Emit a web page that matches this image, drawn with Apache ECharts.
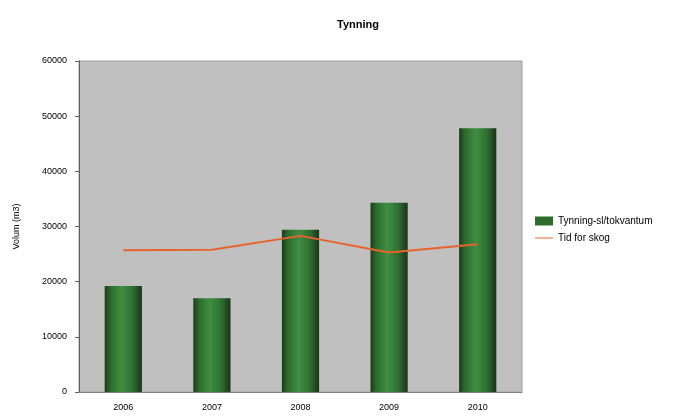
<!DOCTYPE html>
<html>
<head>
<meta charset="utf-8">
<script src="https://cdn.jsdelivr.net/npm/echarts@6/dist/echarts.min.js"></script>
<style>html,body{margin:0;padding:0;background:#fff}#c{width:687px;height:418px}</style>
</head>
<body>
<div id="c"></div>
<script>
const categories = ['2006', '2007', '2008', '2009', '2010'];
const barValues = [19200, 17000, 29400, 34300, 47800];
const lineValues = [25700, 25800, 28300, 25300, 26800];
const barName = 'Tynning-sl/tokvantum';
const lineName = 'Tid for skog';

const chart = echarts.init(document.getElementById('c'));
chart.setOption({
  animation: false,
  backgroundColor: '#ffffff',
  textStyle: { fontFamily: 'Liberation Sans, Arial, sans-serif' },
  title: {
    text: 'Tynning', left: 332, top: 14,
    textStyle: { fontSize: 11, fontWeight: 'bold', color: '#000' }
  },
  grid: {
    left: 79, right: 165, top: 61, bottom: 26,
    show: true, backgroundColor: '#c0c0c0', borderColor: '#a0a0a0', borderWidth: 1
  },
  legend: {
    orient: 'vertical', left: 530, top: 211, itemGap: 7,
    itemWidth: 18, itemHeight: 9,
    textStyle: { fontSize: 10, color: '#000' },
    data: [
      { name: barName, icon: 'rect', itemStyle: { color: '#2e6b2e' } },
      { name: lineName, icon: 'path://M0,4 L18,4 L18,5 L0,5 Z', itemStyle: { color: '#e8622e' } }
    ]
  },
  xAxis: {
    type: 'category', data: categories,
    axisLine: { show: true, lineStyle: { color: '#808080' } },
    axisTick: { show: false },
    axisLabel: { fontSize: 9, color: '#000', margin: 11 }
  },
  yAxis: {
    type: 'value', min: 0, max: 60000, interval: 10000,
    name: 'Volum (m3)', nameLocation: 'middle', nameGap: 58, nameRotate: 90,
    nameTextStyle: { fontSize: 9, color: '#000' },
    axisLine: { show: true, lineStyle: { color: '#606060' } },
    axisTick: { show: true, length: 4, lineStyle: { color: '#606060' } },
    axisLabel: { fontSize: 9, color: '#000', margin: 12, formatter: v => String(v) },
    splitLine: { show: false }
  },
  series: [
    {
      name: barName, type: 'bar', data: barValues, barWidth: '42%',
      itemStyle: {
        color: new echarts.graphic.LinearGradient(0, 0, 1, 0, [
          { offset: 0, color: '#1c3a1c' },
          { offset: 0.15, color: '#2d6a2d' },
          { offset: 0.45, color: '#3f8f42' },
          { offset: 0.75, color: '#2f6f30' },
          { offset: 1, color: '#1a331a' }
        ])
      }
    },
    {
      name: lineName, type: 'line', data: lineValues, symbol: 'none',
      lineStyle: { color: '#e8622e', width: 2 }, itemStyle: { color: '#e8622e' }
    }
  ]
});
</script>
</body>
</html>
